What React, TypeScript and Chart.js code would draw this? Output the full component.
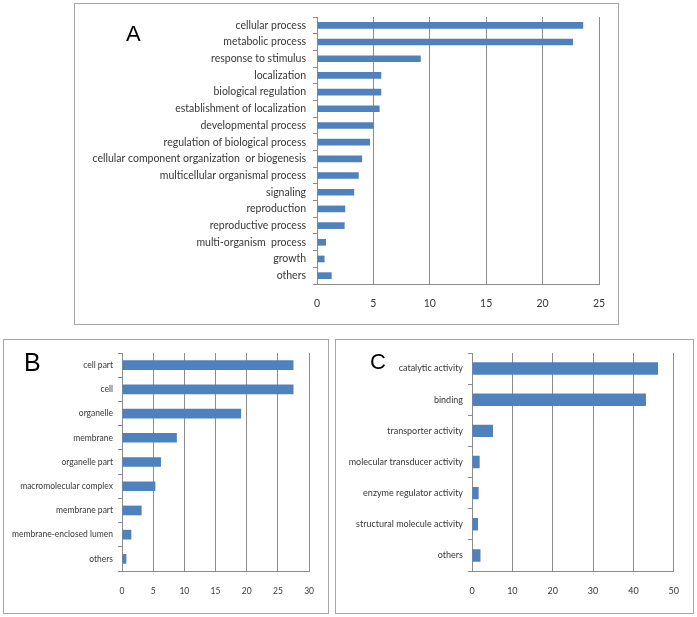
import React, { useEffect, useRef } from "react";
import { Chart, registerables } from "chart.js";

Chart.register(...registerables);

const categoriesA = [
  "cellular process",
  "metabolic process",
  "response to stimulus",
  "localization",
  "biological regulation",
  "establishment of localization",
  "developmental process",
  "regulation of biological process",
  "cellular component organization  or biogenesis",
  "multicellular organismal process",
  "signaling",
  "reproduction",
  "reproductive process",
  "multi-organism  process",
  "growth",
  "others",
];
const valuesA = [23.6, 22.7, 9.2, 5.7, 5.7, 5.55, 5.0, 4.7, 4.0, 3.7, 3.3, 2.5, 2.45, 0.8, 0.67, 1.3];
const ticksA = { max: 25, step: 5 };

const categoriesB = [
  "cell part",
  "cell",
  "organelle",
  "membrane",
  "organelle part",
  "macromolecular complex",
  "membrane part",
  "membrane-enclosed lumen",
  "others",
];
const valuesB = [27.5, 27.5, 19.1, 8.8, 6.25, 5.35, 3.15, 1.5, 0.7];
const ticksB = { max: 30, step: 5 };

const categoriesC = [
  "catalytic activity",
  "binding",
  "transporter activity",
  "molecular transducer activity",
  "enzyme regulator activity",
  "structural molecule activity",
  "others",
];
const valuesC = [46.1, 43.1, 5.2, 1.9, 1.65, 1.5, 2.1];
const ticksC = { max: 50, step: 10 };

const BAR = "#4f81bd";
const GRID = "#8c8c8c";
const TEXT = "#383838";
const FONT = "Lato, 'Open Sans', sans-serif";

type PanelProps = {
  letter: string;
  labels: string[];
  values: number[];
  tick: { max: number; step: number };
  box: { x: number; y: number; w: number; h: number };
  area: { left: number; right: number; top: number; bottom: number };
  fontSize: number;
  letterPos: { x: number; y: number; size: number };
  yPad: number;
  xPad: number;
};

function Panel(p: PanelProps) {
  const ref = useRef<HTMLCanvasElement | null>(null);
  useEffect(() => {
    if (!ref.current) return;
    const chart = new Chart(ref.current, {
      type: "bar",
      data: {
        labels: p.labels,
        datasets: [
          {
            data: p.values,
            backgroundColor: BAR,
            borderWidth: 0,
            barPercentage: 0.4,
            categoryPercentage: 1,
          },
        ],
      },
      options: {
        indexAxis: "y",
        animation: false,
        responsive: false,
        maintainAspectRatio: false,
        layout: {
          padding: { left: 0, top: p.area.top, right: p.box.w - p.area.right, bottom: 0 },
        },
        plugins: { legend: { display: false }, tooltip: { enabled: false } },
        scales: {
          x: {
            min: 0,
            max: p.tick.max,
            afterFit: (s: any) => {
              s.height = p.box.h - p.area.bottom;
            },
            ticks: {
              stepSize: p.tick.step,
              color: TEXT,
              font: { family: FONT, size: p.fontSize },
              padding: p.xPad,
            },
            grid: { color: GRID, drawTicks: false, lineWidth: 1 },
            border: { display: true, color: GRID },
          },
          y: {
            afterFit: (s: any) => {
              s.width = p.area.left;
            },
            ticks: {
              color: TEXT,
              font: { family: FONT, size: p.fontSize },
              padding: p.yPad,
              autoSkip: false,
            },
            grid: {
              offset: true,
              drawOnChartArea: false,
              drawTicks: true,
              tickLength: 4,
              color: GRID,
            },
            border: { display: true, color: GRID },
          },
        },
      },
    });
    return () => chart.destroy();
  }, []);
  return (
    <>
      <canvas
        ref={ref}
        width={p.box.w}
        height={p.box.h}
        style={{ position: "absolute", left: p.box.x, top: p.box.y, width: p.box.w, height: p.box.h }}
      />
      <div
        style={{
          position: "absolute",
          left: p.box.x,
          top: p.box.y,
          width: p.box.w,
          height: p.box.h,
          border: "1.5px solid #a6a6a6",
          boxSizing: "border-box",
          pointerEvents: "none",
        }}
      />
      <div
        style={{
          position: "absolute",
          left: p.letterPos.x,
          top: p.letterPos.y,
          fontFamily: "'Liberation Sans', Arial, sans-serif",
          fontSize: p.letterPos.size,
          lineHeight: 1,
          color: "#000",
        }}
      >
        {p.letter}
      </div>
    </>
  );
}

export default function App() {
  return (
    <div style={{ position: "absolute", left: 0, top: 0, width: 697, height: 617, background: "#fff" }}>
      <Panel
        letter="A"
        labels={categoriesA}
        values={valuesA}
        tick={ticksA}
        box={{ x: 74, y: 3, w: 545, h: 322 }}
        area={{ left: 243, right: 525, top: 14, bottom: 281 }}
        fontSize={10.5}
        letterPos={{ x: 126, y: 23, size: 22 }}
        yPad={7}
        xPad={13}
      />
      <Panel
        letter="B"
        labels={categoriesB}
        values={valuesB}
        tick={ticksB}
        box={{ x: 3, y: 339, w: 326, h: 275 }}
        area={{ left: 119, right: 310, top: 14, bottom: 232 }}
        fontSize={8.5}
        letterPos={{ x: 24, y: 350, size: 25 }}
        yPad={5}
        xPad={15}
      />
      <Panel
        letter="C"
        labels={categoriesC}
        values={valuesC}
        tick={ticksC}
        box={{ x: 335, y: 339, w: 359, h: 275 }}
        area={{ left: 137, right: 341, top: 14, bottom: 232 }}
        fontSize={9}
        letterPos={{ x: 370, y: 351, size: 22 }}
        yPad={5}
        xPad={15}
      />
    </div>
  );
}
